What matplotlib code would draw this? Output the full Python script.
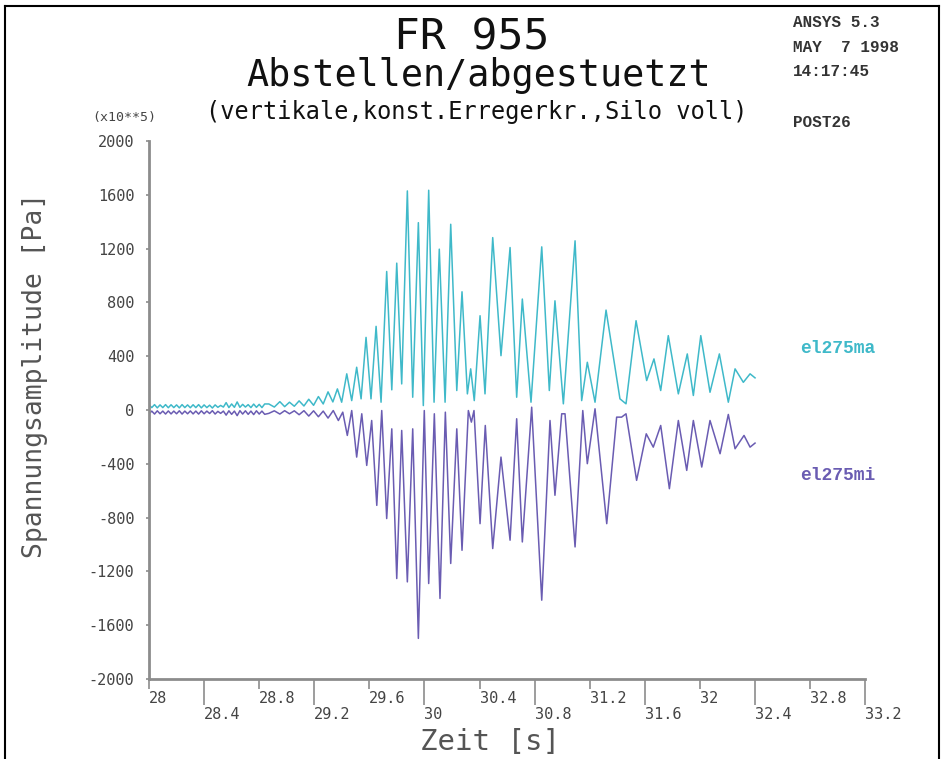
import matplotlib
matplotlib.use("Agg")
import matplotlib.pyplot as plt
from matplotlib.lines import Line2D

# early small oscillations (shared time points)
early_t = [28.00, 28.02, 28.04, 28.06, 28.08, 28.10, 28.12, 28.14, 28.16, 28.18,
           28.20, 28.22, 28.24, 28.26, 28.28, 28.30, 28.32, 28.34, 28.36, 28.38,
           28.40, 28.42, 28.44, 28.46, 28.48, 28.50, 28.52, 28.54, 28.56, 28.58,
           28.60, 28.62, 28.64, 28.66, 28.68, 28.70, 28.72, 28.74, 28.76, 28.78,
           28.80, 28.82, 28.84]
early_ma = [38, 18, 40, 16, 38, 18, 40, 17, 39, 18,
            38, 16, 40, 18, 38, 17, 39, 18, 40, 16,
            38, 18, 36, 15, 38, 20, 34, 22, 55, 18,
            45, 20, 60, 20, 42, 22, 40, 18, 44, 20,
            42, 18, 45]
early_mi = [-28, -8, -30, -6, -28, -8, -30, -7, -29, -8,
            -28, -6, -30, -8, -28, -7, -29, -8, -30, -6,
            -28, -8, -26, -5, -30, -10, -25, -8, -38, -6,
            -32, -8, -42, -5, -30, -6, -32, -8, -34, -6,
            -30, -8, -32]

# el275ma: peaks / troughs
ma_t = [28.87, 28.91, 28.95, 28.985, 29.02, 29.055, 29.09, 29.125, 29.16, 29.195,
        29.23, 29.265, 29.30, 29.335, 29.368, 29.399, 29.436, 29.472, 29.508, 29.540,
        29.576, 29.612, 29.649, 29.685, 29.726, 29.763, 29.799, 29.835, 29.876, 29.915,
        29.956, 29.992, 30.031, 30.070, 30.108, 30.150, 30.191, 30.235, 30.273, 30.312,
        30.336, 30.362, 30.404, 30.440, 30.496, 30.556, 30.622, 30.670, 30.711, 30.774,
        30.852, 30.907, 30.948, 31.009, 31.094, 31.142, 31.183, 31.239, 31.319, 31.420,
        31.464, 31.537, 31.614, 31.667, 31.716, 31.771, 31.844, 31.909, 31.953, 32.007,
        32.074, 32.142, 32.207, 32.256, 32.316, 32.365, 32.401]
ma_v = [45, 22, 62, 25, 58, 28, 68, 30, 80, 35,
        100, 45, 135, 60, 157, 58, 269, 70, 318, 83,
        540, 83, 622, 58, 1030, 150, 1092, 194, 1629, 95,
        1393, 33, 1634, 58, 1196, 58, 1381, 145, 879, 120,
        306, 70, 701, 120, 1282, 404, 1208, 95, 825, 58,
        1213, 145, 812, 46, 1258, 70, 355, 58, 743, 83,
        46, 664, 219, 380, 145, 553, 120, 417, 108, 553,
        132, 417, 58, 306, 206, 269, 239]

# el275mi
mi_t = [28.87, 28.91, 28.95, 28.985, 29.02, 29.055, 29.09, 29.125, 29.16, 29.195,
        29.23, 29.265, 29.30, 29.338, 29.375, 29.407, 29.440, 29.472, 29.508, 29.545,
        29.581, 29.617, 29.654, 29.690, 29.726, 29.763, 29.799, 29.835, 29.876, 29.915,
        29.956, 29.999, 30.031, 30.072, 30.113, 30.152, 30.191, 30.235, 30.273, 30.319,
        30.341, 30.360, 30.404, 30.442, 30.496, 30.556, 30.622, 30.670, 30.711, 30.779,
        30.852, 30.912, 30.948, 30.997, 31.021, 31.094, 31.150, 31.183, 31.239, 31.324,
        31.396, 31.432, 31.464, 31.541, 31.611, 31.662, 31.716, 31.779, 31.844, 31.905,
        31.953, 32.014, 32.074, 32.147, 32.207, 32.256, 32.321, 32.365, 32.401]
mi_v = [-25, -6, -30, -5, -28, -6, -35, -5, -45, -6,
        -50, -8, -60, -4, -78, -16, -189, -4, -350, -28,
        -412, -78, -709, -4, -807, -140, -1253, -152, -1278, -140,
        -1698, -4, -1290, -28, -1401, -16, -1141, -140, -1043, -4,
        -90, -4, -845, -115, -1030, -350, -968, -65, -981, 21,
        -1414, -78, -634, -28, -28, -1018, -4, -399, 9, -845,
        -53, -53, -28, -523, -177, -276, -115, -585, -78, -449,
        -78, -424, -78, -325, -33, -288, -189, -276, -246]

x_row1 = [28, 28.8, 29.6, 30.4, 31.2, 32, 32.8]
x_row1_lbl = ["28", "28.8", "29.6", "30.4", "31.2", "32", "32.8"]
x_row2 = [28.4, 29.2, 30, 30.8, 31.6, 32.4, 33.2]
x_row2_lbl = ["28.4", "29.2", "30", "30.8", "31.6", "32.4", "33.2"]
y_ticks = [-2000, -1600, -1200, -800, -400, 0, 400, 800, 1200, 1600, 2000]

c_ma = "#3fb9c9"
c_mi = "#6a5cb2"
mono = "DejaVu Sans Mono"

fig = plt.figure(figsize=(9.45, 7.59), dpi=100)
ax = fig.add_axes([0.1577, 0.1054, 0.7577, 0.7088])

ax.plot(early_t + ma_t, early_ma + ma_v, color=c_ma, lw=1.1)
ax.plot(early_t + mi_t, early_mi + mi_v, color=c_mi, lw=1.1)

ax.set_xlim(28, 33.2)
ax.set_ylim(-2000, 2000)
for s in ["top", "right"]:
    ax.spines[s].set_visible(False)
for s in ["left", "bottom"]:
    ax.spines[s].set_color("#8c8c8c")
    ax.spines[s].set_linewidth(2)

ax.set_yticks(y_ticks)
ax.set_yticklabels([str(v) for v in y_ticks], family=mono, fontsize=11, color="#444444")
ax.tick_params(axis="y", direction="out", length=2.5, width=1.2, color="#8c8c8c", pad=8)

ax.set_xticks(x_row1)
ax.set_xticklabels(x_row1_lbl, family=mono, fontsize=11, color="#444444", ha="left")
ax.set_xticks(x_row2, minor=True)
ax.set_xticklabels(x_row2_lbl, minor=True, family=mono, fontsize=11, color="#444444", ha="left")
ax.tick_params(axis="x", which="major", direction="out", length=7, width=1.2, color="#8c8c8c", pad=1.5)
ax.tick_params(axis="x", which="minor", direction="out", length=19, width=1.2, color="#8c8c8c", pad=1.5)

# titles and annotations
fig.text(0.4995, 0.950, "FR 955", family=mono, fontsize=31, ha="center", va="center", color="#111111")
fig.text(0.506, 0.900, "Abstellen/abgestuetzt", family=mono, fontsize=26.5, ha="center", va="center",
         color="#111111")
fig.text(0.505, 0.852, "(vertikale,konst.Erregerkr.,Silo voll)", family=mono, fontsize=17,
         ha="center", va="center", color="#111111")
fig.text(0.132, 0.845, "(x10**5)", family=mono, fontsize=9.5, ha="center", va="center", color="#444444")

for txt, y in [("ANSYS 5.3", 0.971), ("MAY  7 1998", 0.938), ("14:17:45", 0.906), ("POST26", 0.839)]:
    fig.text(0.839, y, txt, family="Liberation Mono", fontsize=11.5, weight="bold",
             color="#333333", ha="left", va="center")

fig.text(0.847, 0.541, "el275ma", family="Liberation Mono", fontsize=13, weight="bold",
         color=c_ma, ha="left", va="center")
fig.text(0.847, 0.373, "el275mi", family="Liberation Mono", fontsize=13, weight="bold",
         color=c_mi, ha="left", va="center")

fig.text(0.037, 0.506, "Spannungsamplitude [Pa]", family=mono, fontsize=19, rotation=90,
         ha="center", va="center", color="#555555")
fig.text(0.518, 0.022, "Zeit [s]", family=mono, fontsize=21, ha="center", va="center",
         color="#555555")

# outer frame
fig.add_artist(Line2D([0.0053, 0.0053], [0.0, 0.9915], transform=fig.transFigure, color="black", lw=1.5))
fig.add_artist(Line2D([0.9937, 0.9937], [0.0, 0.9915], transform=fig.transFigure, color="black", lw=1.5))
fig.add_artist(Line2D([0.0053, 0.9937], [0.9915, 0.9915], transform=fig.transFigure, color="black", lw=1.5))

fig.savefig("out.png", dpi=100)
